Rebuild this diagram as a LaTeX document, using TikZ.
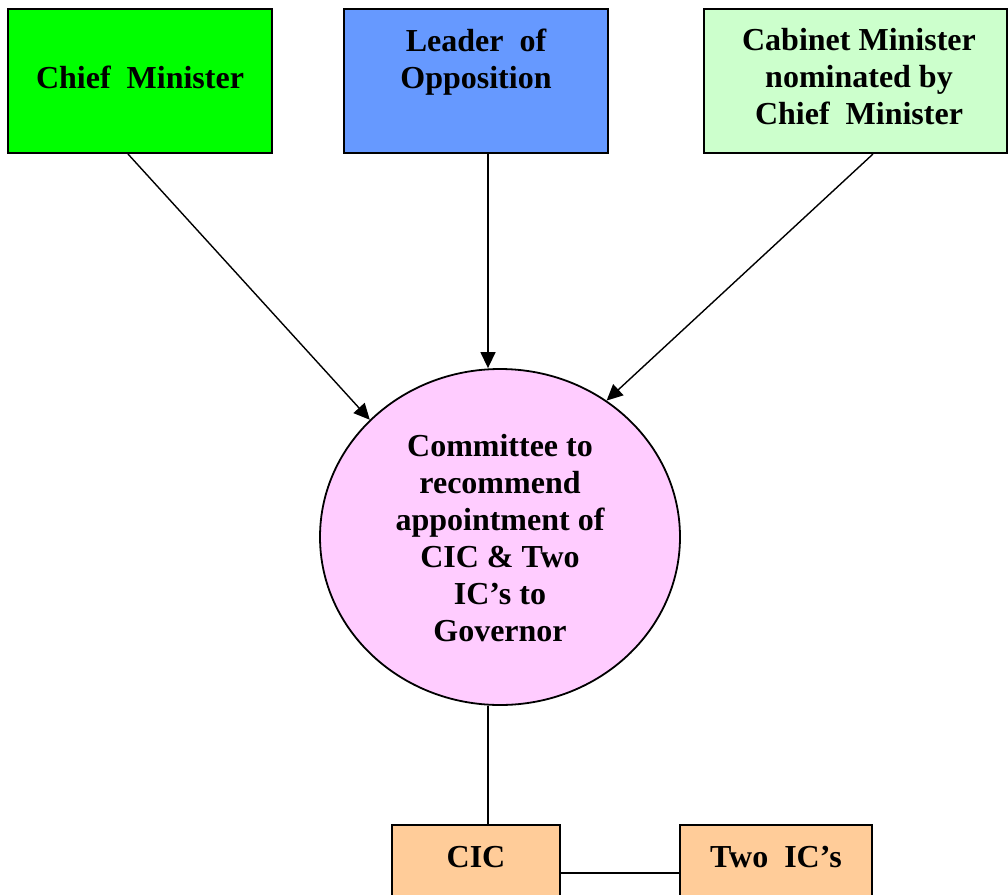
\documentclass[tikz,border=0pt]{standalone}
\usepackage{fontspec}
\setmainfont{Liberation Serif}
\usetikzlibrary{shapes.geometric,arrows.meta}
\definecolor{cmgreen}{HTML}{00FF00}
\definecolor{lopblue}{HTML}{6699FF}
\definecolor{cabgreen}{HTML}{CCFFCC}
\definecolor{compink}{HTML}{FFCCFF}
\definecolor{icorange}{HTML}{FFCC99}
\begin{document}
\begin{tikzpicture}[x=1pt,y=-1pt,
  box/.style={draw=black, line width=2pt, inner sep=0pt, rectangle},
  lbl/.style={font=\fontsize{32}{37}\selectfont\bfseries, align=center, inner sep=0pt},
  arr/.style={draw=black, line width=1.4pt, -{Triangle[length=16pt,width=15pt]}},
  conn/.style={draw=black, line width=1.8pt}]
\clip (0,0) rectangle (1008,894);
\fill[white] (0,0) rectangle (1008,894);
% top boxes
\node[box, fill=cmgreen, minimum width=264pt, minimum height=144pt] (cm) at (140,81) {};
\node[box, fill=lopblue, minimum width=264pt, minimum height=144pt] (lo) at (476,81) {};
\node[box, fill=cabgreen, minimum width=303pt, minimum height=144pt] (cab) at (855.5,81) {};
% committee
\node[draw=black, line width=1.8pt, fill=compink, ellipse, inner sep=0pt,
      minimum width=360pt, minimum height=336pt] (com) at (500,537) {};
% bottom boxes
\node[box, fill=icorange, minimum width=168pt, minimum height=96pt] (cic) at (476,873) {};
\node[box, fill=icorange, minimum width=192pt, minimum height=96pt] (two) at (776,873) {};
% texts
\node[lbl] (tcm) at (140,77) {Chief\ \ Minister};
\node[lbl] (tlo) at (476,62) {Leader\ \ of\\Opposition};
\node[lbl] (tcab) at (859,77) {Cabinet Minister\\nominated by\\Chief\ \ Minister};
\node[lbl] (tcom) at (500,538) {Committee to\\recommend\\appointment of\\CIC \& Two\\IC’s to\\Governor};
\node[lbl] (tcic) at (476,857) {CIC};
\node[lbl] (ttwo) at (776,857) {Two\ \ IC’s};
% connectors
\draw[arr] ([xshift=-12pt]cm.south) -- (com.138);
\draw[arr] ([xshift=12pt]lo.south) -- ([xshift=-12pt]com.north);
\draw[arr] ([xshift=17.5pt]cab.south) -- (com.52);
\draw[conn] ([xshift=-12pt]com.south) -- ([xshift=12pt]cic.north);
\draw[conn] (cic.east) -- (two.west);
\end{tikzpicture}
\end{document}
